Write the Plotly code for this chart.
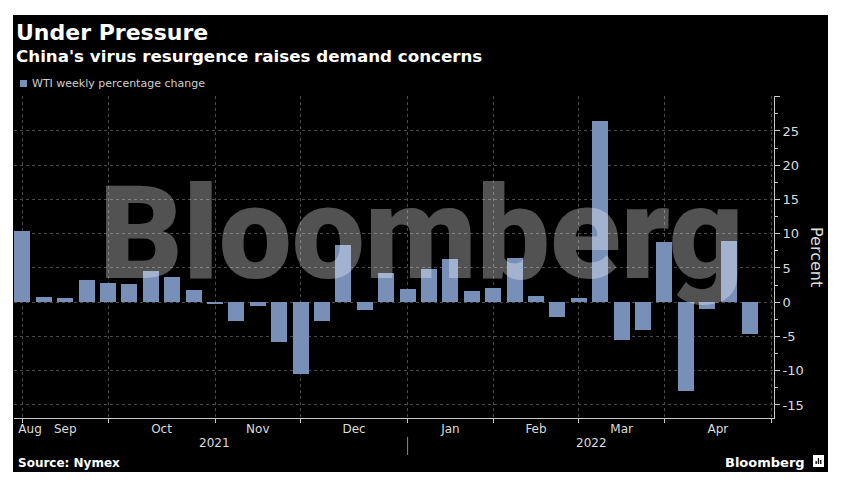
import plotly.graph_objects as go
from datetime import datetime, timedelta

# ---------------- data ----------------
week_ending = [
    "2021-08-27", "2021-09-03", "2021-09-10", "2021-09-17", "2021-09-24",
    "2021-10-01", "2021-10-08", "2021-10-15", "2021-10-22", "2021-10-29",
    "2021-11-05", "2021-11-12", "2021-11-19", "2021-11-26", "2021-12-03",
    "2021-12-10", "2021-12-17", "2021-12-24", "2021-12-31", "2022-01-07",
    "2022-01-14", "2022-01-21", "2022-01-28", "2022-02-04", "2022-02-11",
    "2022-02-18", "2022-02-25", "2022-03-04", "2022-03-11", "2022-03-18",
    "2022-03-25", "2022-04-01", "2022-04-08", "2022-04-15", "2022-04-22",
]
wti_weekly_pct = [
    10.35, 0.83, 0.6, 3.2, 2.8,
    2.6, 4.6, 3.7, 1.8, -0.25,
    -2.7, -0.5, -5.75, -10.5, -2.8,
    8.3, -1.1, 4.25, 1.9, 4.9,
    6.3, 1.6, 2.05, 6.4, 0.85,
    -2.2, 0.55, 26.5, -5.45, -4.1,
    8.85, -12.9, -1.0, 9.0, -4.6,
]
month_boundaries = ["2021-08-27", "2021-09-24", "2021-10-29", "2021-11-26",
                    "2021-12-31", "2022-01-28", "2022-02-25", "2022-03-25",
                    "2022-04-29"]
month_labels = ["Aug", "Sep", "Oct", "Nov", "Dec", "Jan", "Feb", "Mar", "Apr"]
year_labels = ["2021", "2022"]
year_boundary = "2021-12-31"
y_tickvals = [-15, -10, -5, 0, 5, 10, 15, 20, 25, 30]
y_ticktext = ["-15", "-10", "-5", "0", "5", "10", "15", "20", "25", ""]

series_name = "WTI weekly percentage change"
title = "Under Pressure"
subtitle = "China's virus resurgence raises demand concerns"
source = "Source: Nymex"

# ---------------- layout helpers ----------------
W, H = 847, 494
L, R, T, B = 14, 73, 96, 76
PW, PH = W - L - R, H - T - B


def px(x):
    return (x - L) / PW


def py(y):
    return (H - B - y) / PH


def d(s):
    return datetime.strptime(s, "%Y-%m-%d")


FONT = "DejaVu Sans"
BAR = "#7890b8"
GRID = "#4a4a4a"
AXIS = "#c8c8c8"
TXT = "#dcdcdc"

bounds = [d(s) for s in month_boundaries]
label_pos = [bounds[0] + timedelta(days=2.5)]
for i in range(1, len(bounds)):
    label_pos.append(bounds[i - 1] + (bounds[i] - bounds[i - 1]) / 2)

x_range = [d(week_ending[0]) - timedelta(days=2.75), bounds[-1] + timedelta(days=0.85)]

fig = go.Figure()
fig.add_trace(go.Bar(
    x=week_ending, y=wti_weekly_pct, name=series_name,
    marker=dict(color=BAR, line=dict(width=0)),
    width=0.745 * 7 * 86400000,
    showlegend=False,
))

annotations = [
    # watermark
    dict(text="Bloomberg", x=px(421), y=py(233), xref="paper", yref="paper",
         xanchor="center", yanchor="middle", showarrow=False,
         font=dict(family="Roboto", size=130, weight=900, color="rgba(255,255,255,0.32)")),
    dict(text=title, x=px(14), y=py(32), xref="paper", yref="paper",
         xanchor="left", yanchor="middle", showarrow=False,
         font=dict(family=FONT, size=22, weight=700, color="white")),
    dict(text=subtitle, x=px(14), y=py(56), xref="paper", yref="paper",
         xanchor="left", yanchor="middle", showarrow=False,
         font=dict(family=FONT, size=16.7, weight=700, color="white")),
    dict(text=series_name, x=px(30), y=py(83), xref="paper", yref="paper",
         xanchor="left", yanchor="middle", showarrow=False,
         font=dict(family=FONT, size=11, color="#cfcfcf")),
    dict(text=source, x=px(16), y=py(463), xref="paper", yref="paper",
         xanchor="left", yanchor="middle", showarrow=False,
         font=dict(family=FONT, size=12, weight=700, color="white")),
    dict(text="Bloomberg", x=px(807), y=py(462), xref="paper", yref="paper",
         xanchor="right", yanchor="middle", showarrow=False,
         font=dict(family=FONT, size=13, weight=700, color="white")),
    dict(text="Percent", x=px(817), y=py(257), xref="paper", yref="paper",
         xanchor="center", yanchor="middle", showarrow=False, textangle=90,
         font=dict(family=FONT, size=16, color=TXT)),
    dict(text=year_labels[0], x=px(214), y=py(443), xref="paper", yref="paper",
         xanchor="center", yanchor="middle", showarrow=False,
         font=dict(family=FONT, size=12, color=TXT)),
    dict(text=year_labels[1], x=px(591), y=py(443), xref="paper", yref="paper",
         xanchor="center", yanchor="middle", showarrow=False,
         font=dict(family=FONT, size=12, color=TXT)),
]

shapes = [
    # black panel
    dict(type="rect", xref="paper", yref="paper", layer="below",
         x0=px(13), x1=px(828), y0=py(472), y1=py(15),
         fillcolor="black", line=dict(width=0)),
    # legend swatch
    dict(type="rect", xref="paper", yref="paper",
         x0=px(20), x1=px(27), y0=py(87), y1=py(80),
         fillcolor=BAR, line=dict(width=0)),
    # year separator
    dict(type="line", xref="x", yref="paper",
         x0=year_boundary, x1=year_boundary, y0=py(437), y1=py(455),
         line=dict(color="#8a8a8a", width=1)),
    # logo icon
    dict(type="rect", xref="paper", yref="paper",
         x0=px(813), x1=px(824), y0=py(467), y1=py(455),
         fillcolor="white", line=dict(width=0)),
]
for xa, xb, ya in [(815.5, 816.8, 461), (817.8, 819.1, 458), (820.1, 821.4, 460)]:
    shapes.append(dict(type="rect", xref="paper", yref="paper",
                       x0=px(xa), x1=px(xb), y0=py(464), y1=py(ya),
                       fillcolor="black", line=dict(width=0)))

fig.update_layout(
    width=W, height=H,
    margin=dict(l=L, r=R, t=T, b=B, pad=0),
    paper_bgcolor="white",
    plot_bgcolor="black",
    font=dict(family=FONT, color=TXT),
    bargap=0,
    annotations=annotations,
    shapes=shapes,
    xaxis=dict(
        type="date", range=x_range,
        tickmode="array", tickvals=label_pos, ticktext=month_labels,
        ticks="", showgrid=False, zeroline=False,
        showline=True, linecolor=AXIS, linewidth=1,
        tickfont=dict(family=FONT, size=12, color=TXT),
        minor=dict(tickmode="array", tickvals=bounds, ticks="outside",
                   ticklen=4, tickcolor=AXIS, showgrid=True,
                   gridcolor=GRID, griddash="dot", gridwidth=1),
    ),
    yaxis=dict(
        side="right", range=[-16.9, 30.1],
        tickmode="array", tickvals=y_tickvals, ticktext=y_ticktext,
        ticks="outside", ticklen=5, tickcolor=AXIS,
        showline=True, linecolor=AXIS, linewidth=1,
        showgrid=True, gridcolor=GRID, griddash="dot", gridwidth=1,
        zeroline=False,
        tickfont=dict(family=FONT, size=13, color=TXT),
        minor=dict(dtick=2.5, tick0=0, ticks="outside", ticklen=3,
                   tickcolor=AXIS, showgrid=False),
    ),
)

fig.write_html(
    "out.html",
    config={"displayModeBar": False},
    post_script="document.body.style.margin='0';document.body.style.padding='0';",
)
